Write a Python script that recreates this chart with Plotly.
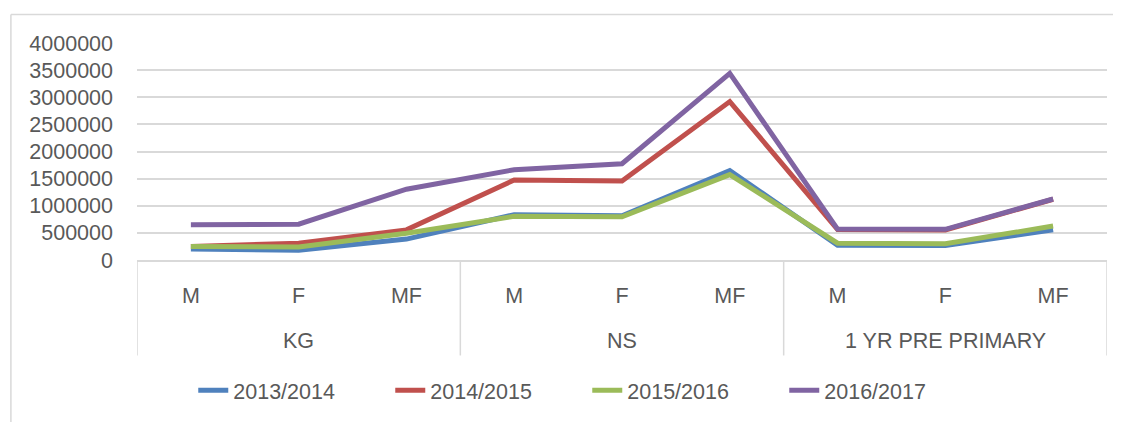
import plotly.graph_objects as go

# ---------- Data ----------
groups = ["KG", "KG", "KG", "NS", "NS", "NS",
          "1 YR PRE PRIMARY", "1 YR PRE PRIMARY", "1 YR PRE PRIMARY"]
sexes = ["M", "F", "MF", "M", "F", "MF", "M", "F", "MF"]

y_2013 = [205000, 180000, 385000, 835000, 815000, 1650000, 270000, 265000, 555000]
y_2014 = [250000, 310000, 555000, 1475000, 1455000, 2920000, 560000, 555000, 1120000]
y_2015 = [250000, 240000, 495000, 805000, 795000, 1575000, 310000, 300000, 625000]
y_2016 = [650000, 660000, 1305000, 1665000, 1775000, 3440000, 570000, 565000, 1125000]

series = [
    ("2013/2014", y_2013, "#4F81BD"),
    ("2014/2015", y_2014, "#C0504D"),
    ("2015/2016", y_2015, "#9BBB59"),
    ("2016/2017", y_2016, "#8064A2"),
]

GRID = "#D9D9D9"
TXT = "#595959"
FONT = "Liberation Sans, Arial, sans-serif"

xs = list(range(len(sexes)))

fig = go.Figure()
for name, vals, color in series:
    fig.add_trace(go.Scatter(
        x=xs, y=vals, name=name, mode="lines",
        line=dict(color=color, width=5),
    ))

# group labels + divider boxes under the category axis
group_names = list(dict.fromkeys(groups))
for g in group_names:
    idx = [i for i, v in enumerate(groups) if v == g]
    fig.add_annotation(x=sum(idx) / len(idx), y=-0.375, xref="x", yref="paper",
                       text=g, showarrow=False, yanchor="middle",
                       font=dict(family=FONT, size=21.5, color=TXT))
bounds = [-0.5] + [i + 0.5 for i in range(len(groups) - 1) if groups[i] != groups[i + 1]] + [len(groups) - 0.5]
for b in bounds:
    fig.add_shape(type="line", xref="x", yref="paper", x0=b, x1=b, y0=0, y1=-0.44,
                  line=dict(color=GRID, width=1.5))

fig.update_layout(
    width=1113, height=414,
    margin=dict(l=129, r=14, t=35, b=158),
    paper_bgcolor="white", plot_bgcolor="white",
    font=dict(family=FONT, size=21.5, color=TXT),
    showlegend=True,
    legend=dict(orientation="h", x=0.058, xanchor="left", y=-0.6, yanchor="middle",
                font=dict(size=21.5, color=TXT), entrywidth=152, entrywidthmode="pixels",
                bgcolor="rgba(0,0,0,0)"),
)
fig.update_yaxes(
    range=[0, 4000000], dtick=500000, tickformat="d",
    showgrid=True, gridcolor=GRID, gridwidth=1.5,
    zeroline=False, showline=False, ticks="", ticklabelstandoff=23,
)
fig.update_xaxes(
    range=[-0.5, len(sexes) - 0.5], tickvals=xs, ticktext=sexes,
    showgrid=False, zeroline=False,
    showline=True, linecolor=GRID, linewidth=1.5,
    ticks="", ticklabelstandoff=15,
)

# chart-area border (top and left edges)
fig.add_shape(type="line", xref="paper", yref="paper", x0=-0.13, x1=1.02, y0=1.131, y1=1.131,
              line=dict(color=GRID, width=1.5))
fig.add_shape(type="line", xref="paper", yref="paper", x0=-0.13, x1=-0.13, y0=1.131, y1=-0.8,
              line=dict(color=GRID, width=1.5))

fig.write_html("out.html")
